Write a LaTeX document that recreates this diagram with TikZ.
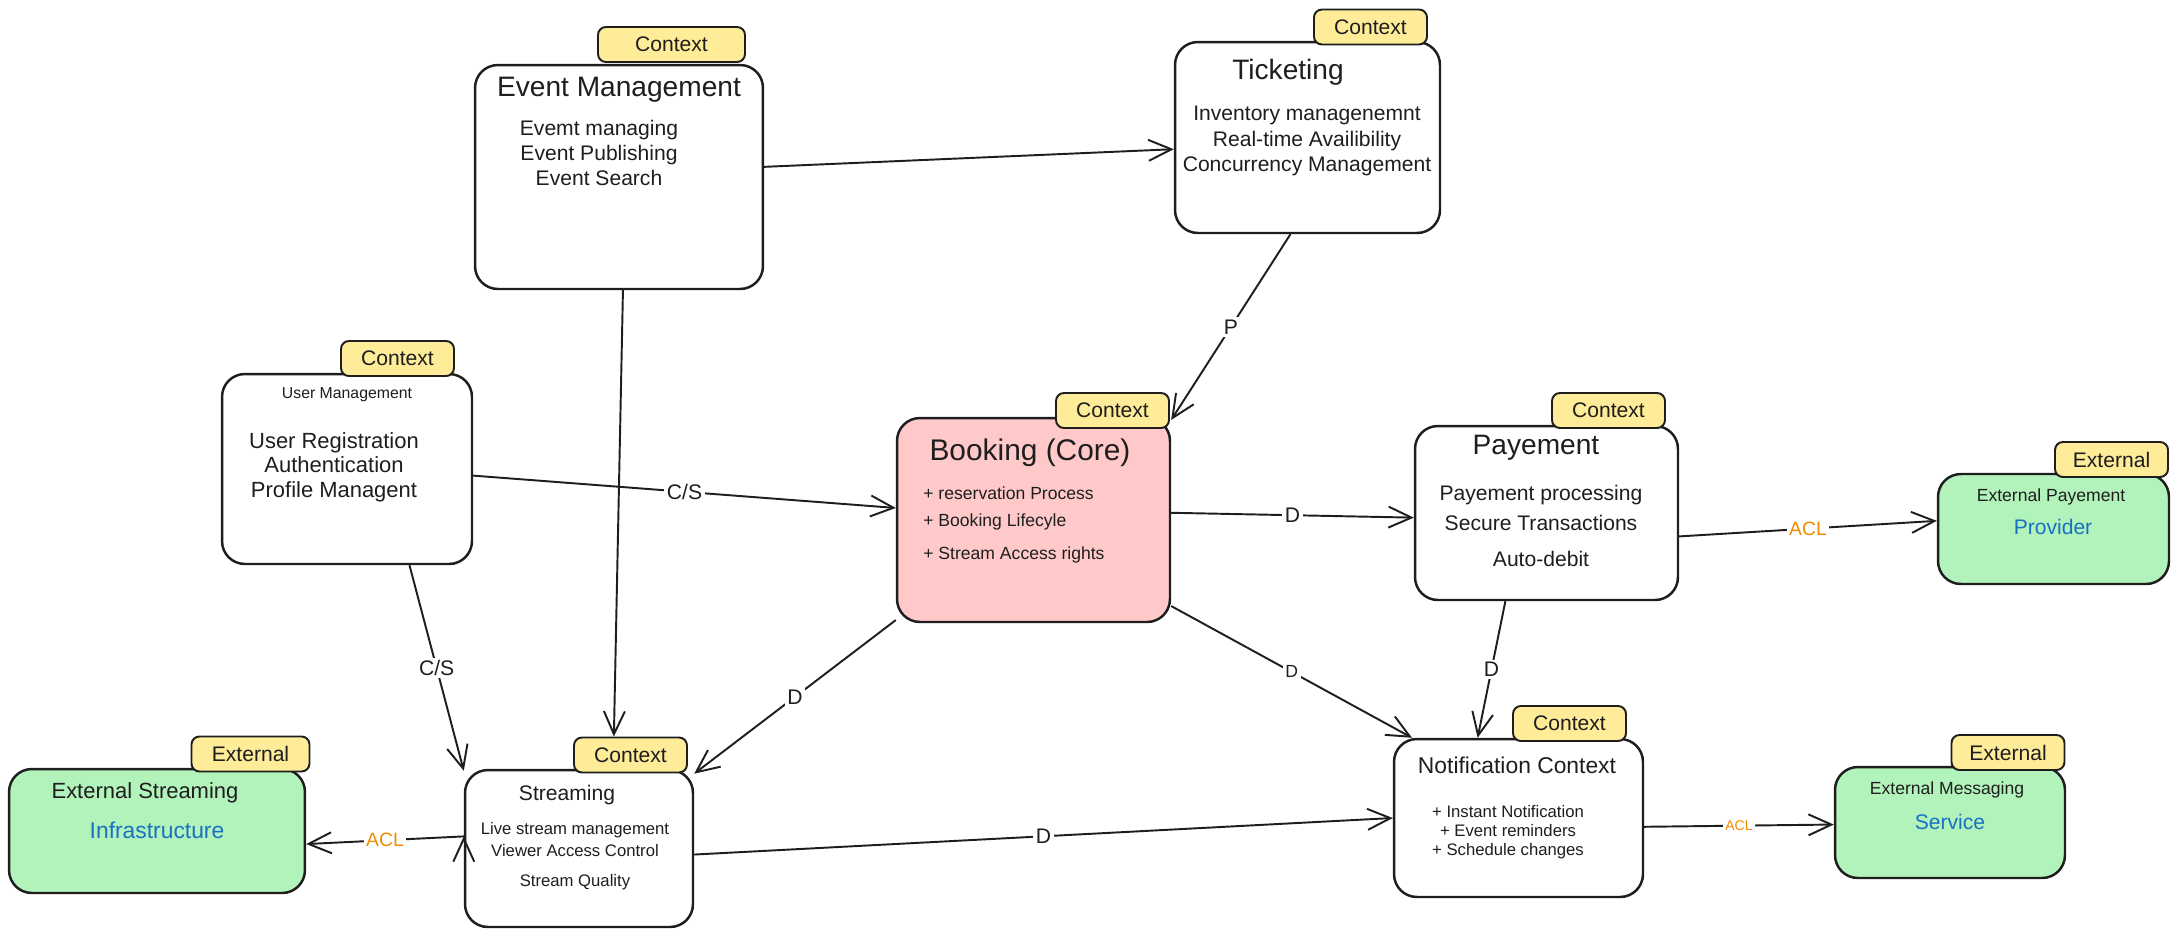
\documentclass[tikz,border=0pt]{standalone}
\usepackage{fontspec}
\setmainfont{Liberation Sans}
\usetikzlibrary{arrows.meta,positioning}
\definecolor{inkline}{HTML}{1E1E1E}
\definecolor{corefill}{HTML}{FFC9C9}
\definecolor{extfill}{HTML}{B2F2BB}
\definecolor{tagfill}{HTML}{FFEC99}
\definecolor{extblue}{HTML}{1971C2}
\definecolor{aclorange}{HTML}{F08C00}
\tikzset{
    context/.style={
    rectangle,rounded corners=13pt,draw=inkline,line width=1.4pt,fill=white,inner sep=0pt
    },
    core/.style={
    context,fill=corefill
    },
    external/.style={
    context,fill=extfill
    },
    tag/.style={
    rectangle,rounded corners=4.5pt,draw=inkline,line width=1.1pt,fill=tagfill,
    minimum width=2.26cm,minimum height=0.7cm,inner sep=0pt,text=inkline,
    font=\fontsize{12}{14}\selectfont
    },
    title/.style={
    inner sep=0pt,text=inkline,font=\fontsize{16}{19}\selectfont
    },
    body/.style={
    inner sep=0pt,align=center,text=inkline,font=\fontsize{12}{14}\selectfont
    },
    ext/.style={
    inner sep=0pt,text=extblue,font=\fontsize{12}{14}\selectfont
    },
    conn/.style={
    draw=inkline,line width=1.1pt
    },
    lbl/.style={
    fill=white,inner sep=1.5pt,text=inkline,font=\fontsize{12}{14}\selectfont
    },
    acl/.style={
    lbl,text=aclorange,font=\fontsize{11}{13}\selectfont
    },
}

\begin{document}
\begin{tikzpicture}[x=0.02cm, y=-0.02cm, >={Straight Barb[length=0.46cm,width=0.42cm]}]
   \path[use as bounding box,fill=white] (0,0) rectangle (2178,937);

   % bounded contexts
   \node[context,minimum width=5.76cm,minimum height=4.48cm] (EM) at (619,177) {};
   \node[context,minimum width=5.3cm,minimum height=3.82cm] (T) at (1307.5,137.5) {};
   \node[context,minimum width=5cm,minimum height=3.8cm] (UM) at (347,469) {};
   \node[core,minimum width=5.46cm,minimum height=4.08cm] (B) at (1033.5,520) {};
   \node[context,minimum width=5.26cm,minimum height=3.48cm] (P) at (1546.5,513) {};
   \node[context,minimum width=4.98cm,minimum height=3.16cm] (N) at (1518.5,818) {};
   \node[context,minimum width=4.56cm,minimum height=3.14cm] (S) at (579,848.5) {};

   % external systems
   \node[external,minimum width=4.62cm,minimum height=2.2cm] (XP) at (2053.5,529) {};
   \node[external,minimum width=4.6cm,minimum height=2.22cm] (XM) at (1950,822.5) {};
   \node[external,minimum width=5.92cm,minimum height=2.48cm] (XS) at (157,831) {};

   % tags
   \node[tag,minimum width=2.94cm] (EMc) at (671.5,44.5) {Context};
   \node[tag] (Tc) at (1370.5,27) {Context};
   \node[tag] (UMc) at (397.5,358.5) {Context};
   \node[tag] (Bc) at (1112.5,410.5) {Context};
   \node[tag] (Pc) at (1608.5,410.5) {Context};
   \node[tag] (Nc) at (1569.5,723.5) {Context};
   \node[tag] (Sc) at (630.5,755) {Context};
   \node[tag] (XPc) at (2111.5,459.5) {External};
   \node[tag] (XMc) at (2008,752.5) {External};
   \node[tag,minimum width=2.36cm] (XSc) at (250.5,754) {External};

   % texts
   \node[title] (EMt) at (619,90) {Event Management};
   \node[body] (EMb) at (599,153) {Evemt managing\\Event Publishing\\Event Search};
   \node[title] (Tt) at (1288,72) {Ticketing};
   \node[body,font=\fontsize{12}{14.5}\selectfont] (Tb) at (1307,141) {Inventory managenemnt\\Real-time Availibility\\Concurrency Management};
   \node[title,font=\fontsize{9}{11}\selectfont] (UMt) at (347,395) {User Management};
   \node[body,font=\fontsize{12.5}{14}\selectfont] (UMb) at (334,467) {User Registration\\Authentication\\Profile Managent};
   \node[title,font=\fontsize{17}{20}\selectfont] (Bt) at (1030,453) {Booking (Core)};
   \node[body,align=left,anchor=west,font=\fontsize{10}{15.4}\selectfont] (Bb) at (923,525) {+ reservation Process\\+ Booking Lifecyle\\[3.4pt]+ Stream Access rights};
   \node[title] (Pt) at (1536,448) {Payement};
   \node[body,font=\fontsize{12}{17}\selectfont] (Pb) at (1541,526) {Payement processing\\Secure Transactions\\[4pt]Auto-debit};
   \node[title,font=\fontsize{13}{15}\selectfont] (Nt) at (1517,765) {Notification Context};
   \node[body,font=\fontsize{9.5}{10.8}\selectfont] (Nb) at (1508,832) {+ Instant Notification\\+ Event reminders\\+ Schedule changes};
   \node[title,font=\fontsize{12}{14}\selectfont] (St) at (567,795) {Streaming};
   \node[body,font=\fontsize{9.5}{12.5}\selectfont] (Sb) at (575,856) {Live stream management\\Viewer Access Control\\[4.5pt]Stream Quality};
   \node[title,font=\fontsize{10}{12}\selectfont] (XPt) at (2051,497) {External Payement};
   \node[ext] (XPb) at (2053,527) {Provider};
   \node[title,font=\fontsize{10}{12}\selectfont] (XMt) at (1947,790) {External Messaging};
   \node[ext] (XMb) at (1950,822) {Service};
   \node[title,font=\fontsize{12.5}{14}\selectfont] (XSt) at (145,793) {External Streaming};
   \node[ext,font=\fontsize{13}{15}\selectfont] (XSb) at (157,830) {Infrastructure};

  \path[->,conn]
    (EM.4) edge (T.185)
    (EM.272.5) edge (Sc.132)
    (T.260) edge node[lbl] {P} (B.36)
    (UM.357.3) edge node[lbl] {C/S} (B.175.2)
    (UM.303.7) edge node[lbl] {C/S} (S.146.4)
    (B.3.3) edge node[lbl] {D} (P.182.6)
    (B.328.1) edge node[lbl,font=\fontsize{10}{12}\selectfont] {D} (N.143.7)
    (B.216.7) edge node[lbl] {D} (S.33)
    (P.245.6) edge node[lbl] {D} (N.117.1)
    (S.357.2) edge node[lbl] {D} (N.180)
    (P.350.3) edge node[acl] {ACL} (XP.176.8)
    (N.356.9) edge node[acl,font=\fontsize{8}{10}\selectfont] {ACL} (XM.181.2)
    (S.174.4) edge node[acl] {ACL} (XS.355.7);
\end{tikzpicture}
\end{document}
